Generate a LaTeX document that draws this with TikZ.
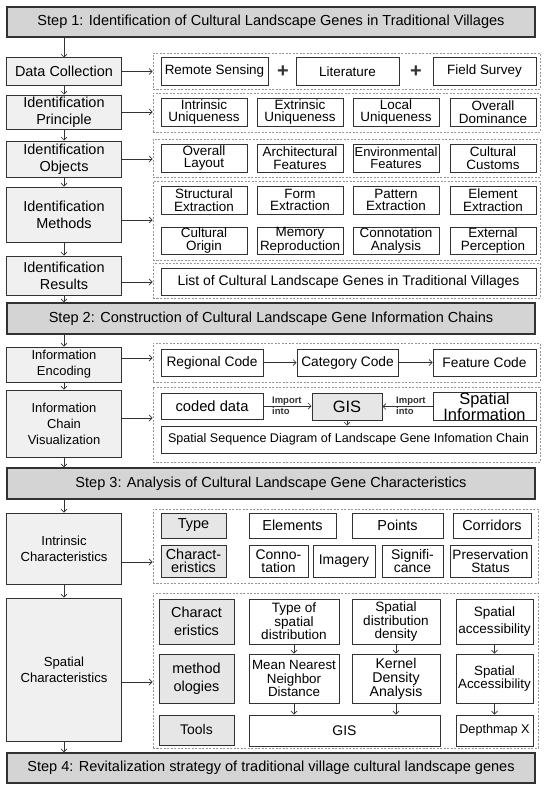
\documentclass[tikz,border=0pt]{standalone}
\usepackage{fontspec}
\setmainfont{Liberation Sans}
\usetikzlibrary{arrows.meta}

\definecolor{stepgray}{RGB}{212,212,212}
\definecolor{boxgray}{RGB}{240,240,240}
\definecolor{midgray}{RGB}{230,230,230}
\definecolor{linegray}{RGB}{50,50,50}
\definecolor{dashgray}{RGB}{150,150,150}
\newcommand{\fsz}[2]{\fontsize{#1}{#2}\selectfont}

\tikzset{
  wh/.style 2 args={minimum width=#1bp, minimum height=#2bp},
  stepbar/.style={draw=linegray, line width=1.4bp, fill=stepgray, inner sep=0, minimum width=528bp, font=\fsz{14.6}{17}},
  leftbox/.style={draw=linegray, line width=1bp, fill=boxgray, inner sep=0, minimum width=114bp, align=center, font=\fsz{14.5}{17}},
  item/.style={draw=linegray, line width=1bp, fill=white, inner sep=0, align=center, font=\fsz{13.5}{12.5}},
  grayitem/.style={item, fill=midgray},
  frame/.style={draw=dashgray, line width=0.7bp, dash pattern=on 2bp off 1.5bp, inner sep=0},
  arr/.style={draw=linegray, line width=0.7bp, -{Straight Barb[length=3bp,width=6bp]}},
  plussign/.style={inner sep=0, font=\fsz{20}{20}\bfseries, text=linegray},
  importlbl/.style={inner sep=0, align=left, anchor=west, font=\fsz{9.5}{11}\bfseries, text=linegray},
}

\begin{document}
\begin{tikzpicture}[x=1bp,y=-1bp]
\useasboundingbox (0,0) rectangle (550,790);

% ---------- Step 1 ----------
\node[stepbar, minimum height=30bp] (step1) at (271,22) {Step 1: Identification of Cultural Landscape Genes in Traditional Villages};

\node[leftbox, minimum height=27bp] (dc) at (64,71.5) {Data Collection};
\node[leftbox, minimum height=34bp] (ip) at (64,112) {Identification\\Principle};
\node[leftbox, minimum height=36bp] (io) at (64,159) {Identification\\Objects};
\node[leftbox, minimum height=55bp] (im) at (64,214.5) {Identification\\Methods};
\node[leftbox, minimum height=39bp] (ir) at (64,275.5) {Identification\\Results};

% dashed frames
\node[frame, wh={387}{36}] (f1) at (346.5,71) {};
\node[frame, wh={387}{39}] (f2) at (346.5,112.5) {};
\node[frame, wh={387}{38}] (f3) at (346.5,158) {};
\node[frame, wh={387}{79}] (f4) at (346.5,220.5) {};
\node[frame, wh={387}{35}] (f5) at (346.5,280.5) {};

% data sources
\node[item, wh={107}{27}] (rs) at (214.5,71.5) {Remote Sensing};
\node[plussign] (plusA) at (283,72) {+};
\node[item, wh={103}{27}] (lit) at (347.5,71.5) {Literature};
\node[plussign] (plusB) at (416,72) {+};
\node[item, wh={103}{27}] (fs) at (484.5,71.5) {Field Survey};

% principles
\node[item, wh={86}{28}] (pa) at (204,112) {Intrinsic\\Uniqueness};
\node[item, wh={86}{28}] (pb) at (300,112) {Extrinsic\\Uniqueness};
\node[item, wh={86}{28}] (pc) at (396,112) {Local\\Uniqueness};
\node[item, wh={86}{28}] (pd) at (493,112) {Overall\\Dominance};

% objects
\node[item, wh={86}{28}] (oa) at (204,158) {Overall\\Layout};
\node[item, wh={86}{28}] (ob) at (300,158) {Architectural\\Features};
\node[item, wh={86}{28}, font=\fsz{13}{12.5}] (oc) at (396,158) {Environmental\\Features};
\node[item, wh={86}{28}] (od) at (493,158) {Cultural\\Customs};

% methods
\node[item, wh={86}{28}] (ma) at (204,200) {Structural\\Extraction};
\node[item, wh={86}{28}] (mb) at (300,200) {Form\\Extraction};
\node[item, wh={86}{28}] (mc) at (396,200) {Pattern\\Extraction};
\node[item, wh={86}{28}] (md) at (493,200) {Element\\Extraction};
\node[item, wh={86}{27}] (me) at (204,240.5) {Cultural\\Origin};
\node[item, wh={86}{27}] (mf) at (300,240.5) {Memory\\Reproduction};
\node[item, wh={86}{27}] (mg) at (396,240.5) {Connotation\\Analysis};
\node[item, wh={86}{27}] (mh) at (493,240.5) {External\\Perception};

% results
\node[item, wh={375}{27}, font=\fsz{14}{14}] (list) at (348.5,281.5) {List of Cultural Landscape Genes in Traditional Villages};

% ---------- Step 2 ----------
\node[stepbar, minimum height=31bp] (step2) at (271,318.5) {Step 2: Construction of Cultural Landscape Gene Information Chains};

\node[leftbox, minimum height=35bp, font=\fsz{13}{16}] (ie) at (64,364.5) {Information\\Encoding};
\node[leftbox, minimum height=67bp, font=\fsz{13}{16}] (iv) at (64,423.5) {Information\\Chain\\Visualization};

\node[frame, wh={387}{39}] (f6) at (346.5,362.5) {};
\node[frame, wh={387}{75}] (f7) at (346.5,424.5) {};

% codes
\node[item, wh={102}{27}, font=\fsz{13.8}{14}] (rc) at (212,362.5) {Regional Code};
\node[item, wh={101}{27}, font=\fsz{13.8}{14}] (cc) at (347.5,362.5) {Category Code};
\node[item, wh={103}{27}, font=\fsz{13.8}{14}] (fc) at (484.5,362.5) {Feature Code};

% visualization
\node[item, wh={102}{26}, font=\fsz{14.8}{15}] (cd) at (212,406) {coded data};
\node[grayitem, wh={70}{27}, font=\fsz{16.5}{16}] (gis) at (347,406.5) {GIS};
\node[item, wh={103}{27}, font=\fsz{16.5}{13.3}] (si) at (484.5,406.5) {Spatial\\Information};
\node[item, wh={375}{27}, font=\fsz{12.6}{13}] (ssd) at (348.5,439.5) {Spatial Sequence Diagram of Landscape Gene Infomation Chain};
\node[importlbl] (lblA) at (272,406) {Import\\into};
\node[importlbl] (lblB) at (396,406) {Import\\into};

% ---------- Step 3 ----------
\node[stepbar, minimum height=31bp] (step3) at (271,483.5) {Step 3: Analysis of Cultural Landscape Gene Characteristics};

\node[leftbox, minimum height=71bp, font=\fsz{13.2}{16}] (ic) at (64,548.5) {Intrinsic\\Characteristics};
\node[leftbox, minimum height=143bp, font=\fsz{13.2}{16}] (sc) at (64,669.5) {Spatial\\Characteristics};

\node[frame, wh={385}{74}] (f8) at (345.5,546) {};
\node[frame, wh={385}{155}] (f9) at (345.5,670.5) {};

% intrinsic
\node[grayitem, wh={65}{25}, font=\fsz{14.5}{13.5}] (ty) at (193.5,525.5) {Type};
\node[item, wh={87}{25}, font=\fsz{14.5}{13.5}] (el) at (292.5,525.5) {Elements};
\node[item, wh={91}{25}, font=\fsz{14.5}{13.5}] (pt) at (397.5,525.5) {Points};
\node[item, wh={78}{25}, font=\fsz{14.5}{13.5}] (co) at (492,525.5) {Corridors};
\node[grayitem, wh={65}{32}, font=\fsz{14.5}{13.5}] (ch) at (193.5,561) {Charact-\\eristics};
\node[item, wh={59}{32}, font=\fsz{14}{13.5}] (cn) at (278.5,561) {Conno-\\tation};
\node[item, wh={62}{32}, font=\fsz{14}{13.5}] (img) at (344,561) {Imagery};
\node[item, wh={61}{32}, font=\fsz{14}{13.5}] (sg) at (412.5,561) {Signifi-\\cance};
\node[item, wh={81}{32}, font=\fsz{13.6}{13.5}] (ps) at (490.5,561) {Preservation\\Status};

% spatial
\node[grayitem, wh={75}{45}, font=\fsz{14.5}{18}] (chr) at (196.5,621.5) {Charact\\eristics};
\node[grayitem, wh={75}{49}, font=\fsz{14.5}{18}] (mth) at (196.5,678.5) {method\\ologies};
\node[grayitem, wh={75}{30}, font=\fsz{14}{14}] (tls) at (196.5,730) {Tools};

\node[item, wh={90}{45}, font=\fsz{13.6}{13.7}] (tsd) at (294,621.5) {Type of\\spatial\\distribution};
\node[item, wh={88}{45}, font=\fsz{13.6}{13.7}] (sdd) at (396,621.5) {Spatial\\distribution\\density};
\node[item, wh={77}{45}, font=\fsz{13.6}{17}] (sa) at (494.5,621.5) {Spatial\\accessibility};

\node[item, wh={90}{49}, font=\fsz{13.4}{13.3}] (mnn) at (294,678.5) {Mean Nearest\\Neighbor\\Distance};
\node[item, wh={88}{49}, font=\fsz{14.2}{14}] (kda) at (396,678.5) {Kernel\\Density\\Analysis};
\node[item, wh={77}{49}, font=\fsz{13.4}{13.7}] (sacc) at (494.5,678.5) {Spatial\\Accessibility};

\node[item, wh={191}{31}, font=\fsz{14}{14}] (gisb) at (344.5,730.5) {GIS};
\node[item, wh={77}{31}, font=\fsz{12.7}{14}] (dmx) at (494.5,730.5) {Depthmap X};

% ---------- Step 4 ----------
\node[stepbar, minimum height=30bp] (step4) at (271,768) {Step 4: Revitalization strategy of traditional village cultural landscape genes};

% main spine
\draw[arr] (dc.north |- step1.south) -- (dc.north);
\draw[arr] (dc.south) -- (ip.north);
\draw[arr] (ip.south) -- (io.north);
\draw[arr] (io.south) -- (im.north);
\draw[arr] (im.south) -- (ir.north);
\draw[arr] (ir.south) -- (ir.south |- step2.north);
\draw[arr] (ie.north |- step2.south) -- (ie.north);
\draw[arr] (ie.south) -- (iv.north);
\draw[arr] (iv.south) -- (iv.south |- step3.north);
\draw[arr] (ic.north |- step3.south) -- (ic.north);
\draw[arr] (ic.south) -- (sc.north);
\draw[arr] (sc.south) -- (sc.south |- step4.north);

% to the frames
\draw[arr] (dc.east) -- (dc.east -| f1.west);
\draw[arr] (ip.east) -- (ip.east -| f2.west);
\draw[arr] (io.east) -- (io.east -| f3.west);
\draw[arr] ([yshift=-5.5bp]im.east) -- ([yshift=-5.5bp]im.east -| f4.west);
\draw[arr] ([yshift=-6.5bp]ir.east) -- ([yshift=-6.5bp]ir.east -| f5.west);
\draw[arr] ([yshift=6.5bp]ie.east) -- ([yshift=6.5bp]ie.east -| f6.west);
\draw[arr] ([yshift=5.5bp]iv.east) -- ([yshift=5.5bp]iv.east -| f7.west);
\draw[arr] ([yshift=-13.5bp]ic.east) -- ([yshift=-13.5bp]ic.east -| f8.west);
\draw[arr] ([yshift=-12.5bp]sc.east) -- ([yshift=-12.5bp]sc.east -| f9.west);

% inside step 2
\draw[arr] (rc.east) -- (cc.west);
\draw[arr] (cc.east) -- (fc.west);
\draw[arr] (cd.east) -- (cd.east -| gis.west);
\draw[arr] (si.west) -- (si.west -| gis.east);
\draw[arr] (gis.south) -- (gis.south |- ssd.north);

% inside step 3
\draw[arr] (tsd.south) -- (mnn.north);
\draw[arr] (sdd.south) -- (kda.north);
\draw[arr] (sa.south) -- (sacc.north);
\draw[arr] (mnn.south) -- (mnn.south |- gisb.north);
\draw[arr] (kda.south) -- (kda.south |- gisb.north);
\draw[arr] (sacc.south) -- (dmx.north);
\end{tikzpicture}
\end{document}
